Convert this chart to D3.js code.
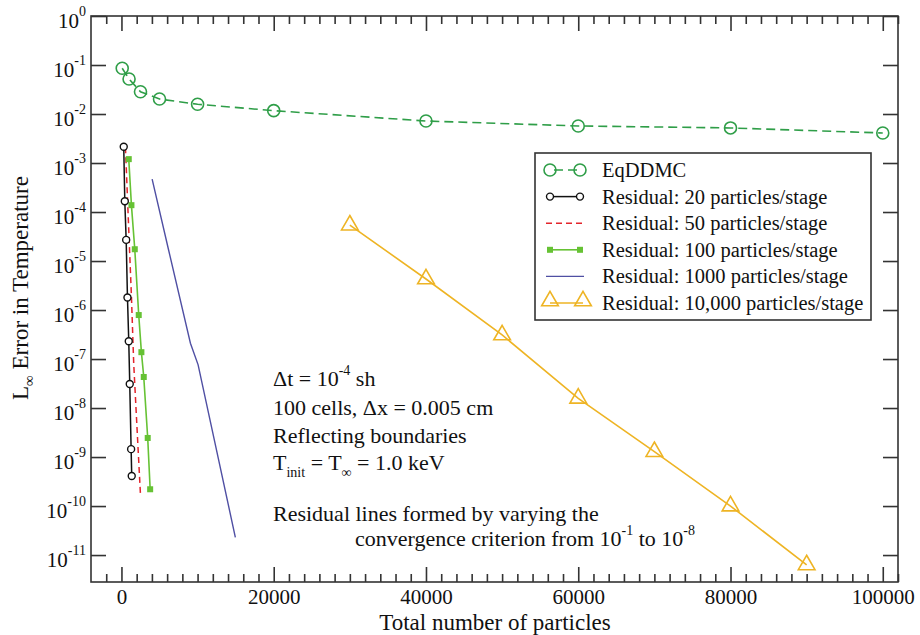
<!DOCTYPE html>
<html><head><meta charset="utf-8">
<script src="https://cdn.jsdelivr.net/npm/d3@7"></script>
<style>
html,body{margin:0;padding:0;background:#fff;}
</style></head>
<body><svg id="c" width="920" height="635"></svg>
<script>
// ---------- data ----------
const xTickValues = [0, 20000, 40000, 60000, 80000, 100000];
const yTickExps = [0, -1, -2, -3, -4, -5, -6, -7, -8, -9, -10, -11];

const eqX = [100, 1000, 2500, 5000, 10000, 20000, 40000, 60000, 80000, 100000];
const eqY = [0.0857, 0.0518, 0.0285, 0.0202, 0.0158, 0.0117, 0.0072, 0.0057, 0.0052, 0.0041];

const r20X = [300, 440, 620, 790, 960, 1090, 1270, 1350];
const r20Y = [2.15e-3, 1.66e-4, 2.7e-5, 1.8e-6, 2.3e-7, 3.1e-8, 1.45e-9, 4.1e-10];

const r50X = [520, 610, 960, 1310, 1610, 2060, 2490];
const r50Y = [2.1e-3, 9.8e-4, 4.3e-5, 1.9e-6, 8.1e-8, 3.5e-9, 1.8e-10];

const r100X = [960, 1310, 1750, 2270, 2620, 2930, 3450, 3770];
const r100Y = [1.2e-3, 1.38e-4, 1.74e-5, 7.9e-7, 1.38e-7, 4.3e-8, 2.45e-9, 2.2e-10];

const r1000X = [4030, 6200, 9060, 10070, 14960];
const r1000Y = [4.7e-4, 1.66e-5, 2.1e-7, 7.6e-8, 2.3e-11];

const r10kX = [30000, 40000, 50000, 60000, 70000, 80000, 90000];
const r10kY = [5.4e-5, 4.3e-6, 3.1e-7, 1.58e-8, 1.29e-9, 1.0e-10, 6.3e-12];

const legendLabels = ["EqDDMC", "Residual: 20 particles/stage", "Residual: 50 particles/stage",
  "Residual: 100 particles/stage", "Residual: 1000 particles/stage", "Residual: 10,000 particles/stage"];

// ---------- layout ----------
const FONT = '"Liberation Serif", "Times New Roman", Times, "Nimbus Roman", "Noto Serif", "DejaVu Serif", FreeSerif, serif';
const FS = 21, SUP = 14, FS_LEG = 20.5, FS_ANN = 22, FS_TITLE = 23;
const L = 91, R = 898, T = 16, B = 582;
const svg = d3.select("#c");
svg.append("rect").attr("width", 920).attr("height", 635).attr("fill", "#fff");
const txt = (sel) => sel.append("text").attr("font-family", FONT).attr("fill", "#111");

const x = d3.scaleLinear().domain([-4000, 102000]).range([L, R]);
const y = d3.scaleLog().domain([Math.pow(10, -11.55), 1]).range([B, T]);

const C = {eq: "#2f9e48", r20: "#111", r50: "#e3242b", r100: "#66c234", r1000: "#4f4fa3", r10k: "#eeb424"};
const axisColor = "#333";

const xMinor = d3.range(-2000, 102001, 2000).filter(v => v % 20000 !== 0);

function styleAxis(g) {
  g.selectAll("path").remove();
  g.selectAll("line").attr("stroke", axisColor).attr("stroke-width", 1.6);
  g.attr("font-family", FONT);
}
// bottom
svg.append("g").attr("transform", `translate(0,${B})`)
  .call(d3.axisBottom(x).tickValues(xTickValues).tickSizeInner(-15).tickSizeOuter(0).tickFormat(d3.format("d")))
  .call(styleAxis)
  .call(g => g.selectAll("text").attr("font-size", FS).attr("fill", "#111").attr("dy", null).attr("y", 22));
svg.append("g").attr("transform", `translate(0,${B})`)
  .call(d3.axisBottom(x).tickValues(xMinor).tickSizeInner(-8).tickSizeOuter(0).tickFormat(""))
  .call(styleAxis);
// top
svg.append("g").attr("transform", `translate(0,${T})`)
  .call(d3.axisTop(x).tickValues(xTickValues).tickSizeInner(-15).tickSizeOuter(0).tickFormat(""))
  .call(styleAxis);
svg.append("g").attr("transform", `translate(0,${T})`)
  .call(d3.axisTop(x).tickValues(xMinor).tickSizeInner(-8).tickSizeOuter(0).tickFormat(""))
  .call(styleAxis);
// left & right
const yTickVals = yTickExps.map(e => Math.pow(10, e));
svg.append("g").attr("transform", `translate(${L},0)`)
  .call(d3.axisLeft(y).tickValues(yTickVals).tickSizeInner(-15).tickSizeOuter(0).tickFormat(""))
  .call(styleAxis);
svg.append("g").attr("transform", `translate(${R},0)`)
  .call(d3.axisRight(y).tickValues(yTickVals).tickSizeInner(-15).tickSizeOuter(0).tickFormat(""))
  .call(styleAxis);
// y labels
const yl = svg.append("g");
yTickExps.forEach(e => {
  const t = txt(yl).attr("x", 86).attr("y", y(Math.pow(10, e)) + 12)
    .attr("text-anchor", "end").attr("font-size", FS);
  t.append("tspan").text("10");
  t.append("tspan").attr("font-size", SUP).attr("dy", -12).text(e);
});
// frame
svg.append("rect").attr("x", L).attr("y", T).attr("width", R - L).attr("height", B - T)
  .attr("fill", "none").attr("stroke", axisColor).attr("stroke-width", 1.6);

// axis titles
txt(svg).attr("x", 495).attr("y", 630).attr("text-anchor", "middle").attr("font-size", FS_TITLE)
  .text("Total number of particles");
const yt = txt(svg).attr("transform", "translate(28,288) rotate(-90)").attr("text-anchor", "middle").attr("font-size", FS_TITLE);
yt.append("tspan").text("L");
yt.append("tspan").attr("font-size", 15).attr("dy", 6).text("∞");
yt.append("tspan").attr("dy", -6).text(" Error in Temperature");

// ---------- series ----------
const line = d3.line().x(d => x(d[0])).y(d => y(d[1]));
const zip = (a, b) => a.map((v, i) => [v, b[i]]);
const plot = svg.append("g");

const eqD = zip(eqX, eqY);
plot.append("path").datum(eqD).attr("d", line).attr("fill", "none").attr("stroke", C.eq).attr("stroke-width", 1.6).attr("stroke-dasharray", "9,5");
plot.selectAll(".eqp").data(eqD).join("circle").attr("cx", d => x(d[0])).attr("cy", d => y(d[1])).attr("r", 6)
  .attr("fill", "none").attr("stroke", C.eq).attr("stroke-width", 1.6);

const r50D = zip(r50X, r50Y);
plot.append("path").datum(r50D).attr("d", line).attr("fill", "none").attr("stroke", C.r50).attr("stroke-width", 1.5).attr("stroke-dasharray", "6,4");

const r100D = zip(r100X, r100Y);
plot.append("path").datum(r100D).attr("d", line).attr("fill", "none").attr("stroke", C.r100).attr("stroke-width", 1.6);
plot.selectAll(".r100p").data(r100D).join("rect").attr("x", d => x(d[0]) - 3).attr("y", d => y(d[1]) - 3)
  .attr("width", 6).attr("height", 6).attr("fill", C.r100);

const r20D = zip(r20X, r20Y);
plot.append("path").datum(r20D).attr("d", line).attr("fill", "none").attr("stroke", C.r20).attr("stroke-width", 1.5);
plot.selectAll(".r20p").data(r20D).join("circle").attr("cx", d => x(d[0])).attr("cy", d => y(d[1])).attr("r", 3.5)
  .attr("fill", "#fff").attr("stroke", C.r20).attr("stroke-width", 1.4);

const r1000D = zip(r1000X, r1000Y);
plot.append("path").datum(r1000D).attr("d", line).attr("fill", "none").attr("stroke", C.r1000).attr("stroke-width", 1.4);

const r10kD = zip(r10kX, r10kY);
plot.append("path").datum(r10kD).attr("d", line).attr("fill", "none").attr("stroke", C.r10k).attr("stroke-width", 1.6);
const tri = d3.symbol().type(d3.symbolTriangle).size(120);
plot.selectAll(".tk").data(r10kD).join("path").attr("d", tri)
  .attr("transform", d => `translate(${x(d[0])},${y(d[1])})`)
  .attr("fill", "none").attr("stroke", C.r10k).attr("stroke-width", 1.6);

// ---------- legend ----------
const lg = svg.append("g");
lg.append("rect").attr("x", 535).attr("y", 153).attr("width", 336).attr("height", 167)
  .attr("fill", "#fff").attr("stroke", axisColor).attr("stroke-width", 1.6);
const rowY = i => 170 + i * 26.6;
const sx0 = 550, sx1 = 580;
legendLabels.forEach((lab, i) => {
  txt(lg).attr("x", 602).attr("y", rowY(i) + 7).attr("font-size", FS_LEG).text(lab);
});
lg.append("line").attr("x1", sx0).attr("x2", sx1).attr("y1", rowY(0)).attr("y2", rowY(0)).attr("stroke", C.eq).attr("stroke-width", 1.6).attr("stroke-dasharray", "9,5").attr("stroke-dashoffset", -4);
[sx0, sx1].forEach(cx => lg.append("circle").attr("cx", cx).attr("cy", rowY(0)).attr("r", 6).attr("fill", "none").attr("stroke", C.eq).attr("stroke-width", 1.6));
lg.append("line").attr("x1", sx0).attr("x2", sx1).attr("y1", rowY(1)).attr("y2", rowY(1)).attr("stroke", C.r20).attr("stroke-width", 1.5);
[sx0, sx1].forEach(cx => lg.append("circle").attr("cx", cx).attr("cy", rowY(1)).attr("r", 3.5).attr("fill", "#fff").attr("stroke", C.r20).attr("stroke-width", 1.4));
lg.append("line").attr("x1", sx0 - 4).attr("x2", sx1 + 4).attr("y1", rowY(2)).attr("y2", rowY(2)).attr("stroke", C.r50).attr("stroke-width", 1.5).attr("stroke-dasharray", "6,4");
lg.append("line").attr("x1", sx0).attr("x2", sx1).attr("y1", rowY(3)).attr("y2", rowY(3)).attr("stroke", C.r100).attr("stroke-width", 1.6);
[sx0, sx1].forEach(cx => lg.append("rect").attr("x", cx - 3).attr("y", rowY(3) - 3).attr("width", 6).attr("height", 6).attr("fill", C.r100));
lg.append("line").attr("x1", sx0 - 4).attr("x2", sx1 + 4).attr("y1", rowY(4)).attr("y2", rowY(4)).attr("stroke", C.r1000).attr("stroke-width", 1.4);
lg.append("line").attr("x1", sx0).attr("x2", sx1 + 3).attr("y1", rowY(5)).attr("y2", rowY(5)).attr("stroke", C.r10k).attr("stroke-width", 1.6);
[sx0, sx1 + 3].forEach(cx => lg.append("path").attr("d", tri).attr("transform", `translate(${cx},${rowY(5) - 2})`).attr("fill", "none").attr("stroke", C.r10k).attr("stroke-width", 1.6));

// ---------- annotations ----------
const an = svg.append("g");
const a1 = txt(an).attr("x", 273).attr("y", 386).attr("font-size", FS_ANN);
a1.append("tspan").text("Δt = 10");
a1.append("tspan").attr("font-size", SUP).attr("dy", -11).text("-4");
a1.append("tspan").attr("dy", 11).text(" sh");
txt(an).attr("x", 273).attr("y", 415).attr("font-size", FS_ANN).text("100 cells, Δx = 0.005 cm");
txt(an).attr("x", 273).attr("y", 443).attr("font-size", FS_ANN).text("Reflecting boundaries");
const a4 = txt(an).attr("x", 273).attr("y", 470).attr("font-size", FS_ANN);
a4.append("tspan").text("T");
a4.append("tspan").attr("font-size", SUP).attr("dy", 7).text("init");
a4.append("tspan").attr("dy", -7).text(" = T");
a4.append("tspan").attr("font-size", SUP).attr("dy", 7).text("∞");
a4.append("tspan").attr("dy", -7).text(" = 1.0 keV");
txt(an).attr("x", 273).attr("y", 521).attr("font-size", FS_ANN).text("Residual lines formed by varying the");
const a6 = txt(an).attr("x", 355).attr("y", 546).attr("font-size", FS_ANN);
a6.append("tspan").text("convergence criterion from 10");
a6.append("tspan").attr("font-size", SUP).attr("dy", -11).text("-1");
a6.append("tspan").attr("dy", 11).text(" to 10");
a6.append("tspan").attr("font-size", SUP).attr("dy", -11).text("-8");
</script></body></html>
